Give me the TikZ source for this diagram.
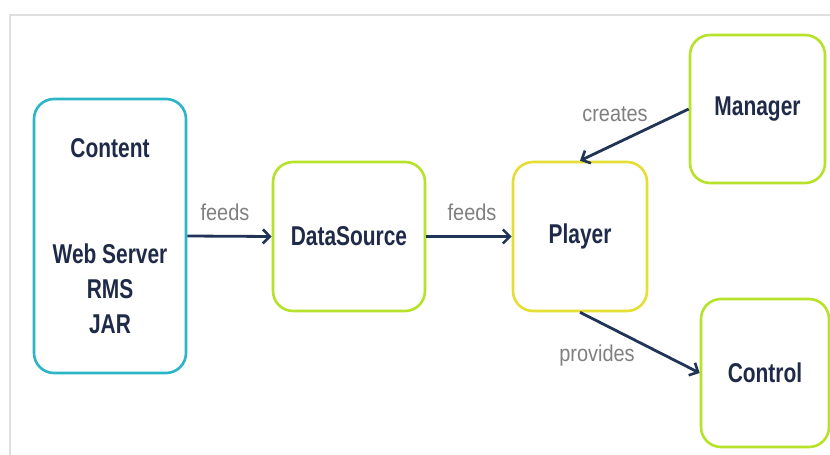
\documentclass[tikz,border=0pt]{standalone}
\usepackage{fontspec}
\setmainfont{Liberation Sans}
\usetikzlibrary{arrows.meta}
\definecolor{tealc}{RGB}{42,182,198}
\definecolor{limec}{RGB}{182,226,42}
\definecolor{yelc}{RGB}{230,222,52}
\definecolor{navy}{RGB}{30,42,72}
\definecolor{arrc}{RGB}{32,52,88}
\newcommand{\tallt}[1]{\scalebox{1}[1.3]{#1}}
\tikzset{
  box/.style={draw, line width=2.6bp, rounded corners=20bp, align=center,
    text=navy, font=\fontsize{21}{35}\selectfont\bfseries},
  feed/.style={draw=arrc, line width=2.8bp, -{Straight Barb[length=7bp,width=14bp,line width=2.6bp]}},
  lbl/.style={text=gray, font=\fontsize{20}{24}\selectfont}
}
\begin{document}
\begin{tikzpicture}[x=1bp,y=-1bp]
\useasboundingbox (0,0) rectangle (830,455);
\fill[white] (0,0) rectangle (830,455);
% frame
\draw[gray!25, line width=1.5bp] (10,470) -- (10,15) -- (845,15);
% boxes
\node[box, draw=tealc, minimum width=152bp, minimum height=274bp] (content) at (110,236)
  {\tallt{Content}\\[72bp]\tallt{Web Server}\\\tallt{RMS}\\\tallt{JAR}};
\node[box, draw=limec, minimum width=152bp, minimum height=149bp] (source) at (349,236.5) {\tallt{DataSource}};
\node[box, draw=yelc, minimum width=134bp, minimum height=149bp] (player) at (580,236.5) {\tallt{Player}};
\node[box, draw=limec, minimum width=135bp, minimum height=148bp] (manager) at (757.5,109) {\tallt{Manager}};
\node[box, draw=limec, minimum width=128bp, minimum height=148bp] (control) at (765,373) {\tallt{Control}};
% arrows
\draw[feed] (content.east) -- (source.west);
\draw[feed] (source.east) -- (player.west);
\draw[feed] (manager.west) -- (player.north);
\draw[feed] (player.south) -- (control.west);
% labels
\node[lbl] (l1) at (225,212) {\scalebox{1}[1.15]{feeds}};
\node[lbl] (l2) at (472,212) {\scalebox{1}[1.15]{feeds}};
\node[lbl] (l3) at (615,114) {\scalebox{1}[1.15]{creates}};
\node[lbl] (l4) at (597,356) {\scalebox{1}[1.15]{provides}};
\end{tikzpicture}
\end{document}
